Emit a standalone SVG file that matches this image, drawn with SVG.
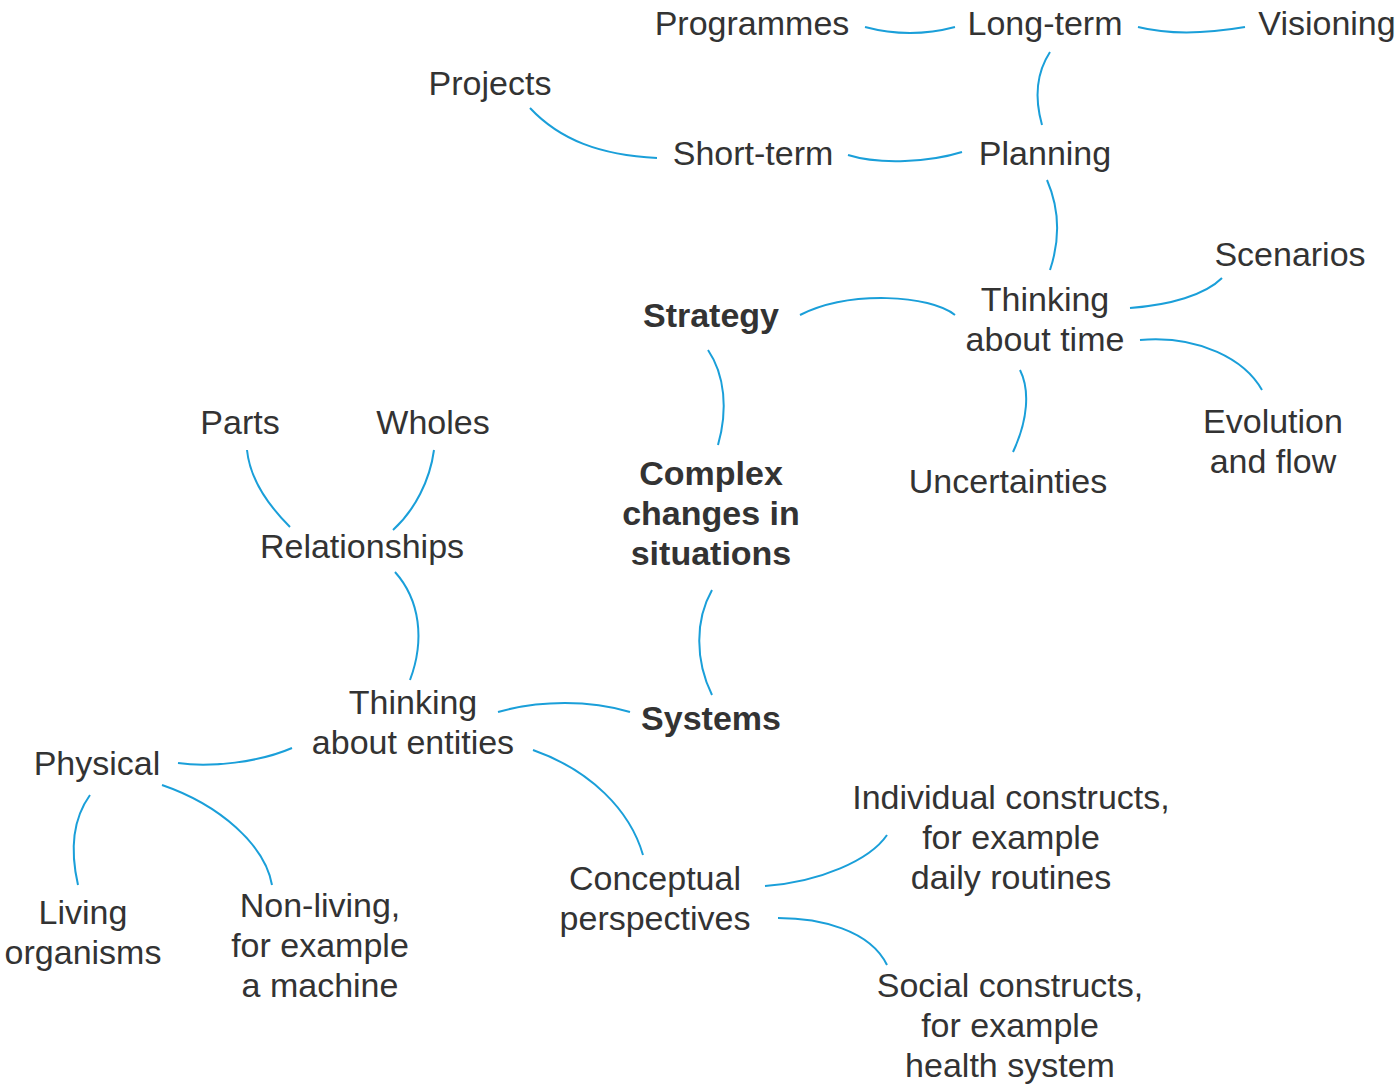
<svg xmlns="http://www.w3.org/2000/svg" width="1400" height="1089" viewBox="0 0 1400 1089">
<style>
text{font-family:"Liberation Sans",Arial,sans-serif;font-size:34px;fill:#333;text-anchor:middle}
.b{font-weight:bold}
#connectors path{fill:none;stroke:#1a9fd9;stroke-width:2}
</style>
<rect width="1400" height="1089" fill="#fff"/>
<g id="connectors">
<path d="M865,27 C895,35 925,35 955,27"/>
<path d="M1138,27 C1170,35 1210,33 1245,27"/>
<path d="M1050,52 C1035,75 1035,100 1042,125"/>
<path d="M530,108 C560,140 600,155 657,158"/>
<path d="M848,155 C880,165 930,162 962,152"/>
<path d="M1047,180 C1060,210 1060,240 1050,270"/>
<path d="M1130,308 C1170,305 1205,295 1222,278"/>
<path d="M955,315 C930,295 850,290 800,315"/>
<path d="M1140,340 C1200,335 1245,360 1262,390"/>
<path d="M1020,370 C1030,390 1028,420 1013,452"/>
<path d="M708,350 C725,375 728,410 718,445"/>
<path d="M712,590 C695,620 695,660 712,695"/>
<path d="M247,450 C250,480 268,505 290,527"/>
<path d="M434,450 C430,480 415,510 393,530"/>
<path d="M395,572 C420,600 425,640 410,680"/>
<path d="M498,712 C540,700 590,700 630,712"/>
<path d="M292,748 C260,762 210,768 178,763"/>
<path d="M533,750 C590,770 630,810 643,855"/>
<path d="M90,795 C72,820 70,850 78,885"/>
<path d="M162,785 C220,805 265,845 272,885"/>
<path d="M765,886 C820,882 870,860 887,835"/>
<path d="M778,918 C820,918 870,930 887,965"/>
</g>
<g id="programmes"><text x="752" y="35">Programmes</text></g>
<g id="longterm"><text x="1045" y="35">Long-term</text></g>
<g id="visioning"><text x="1327" y="35">Visioning</text></g>
<g id="projects"><text x="490" y="95">Projects</text></g>
<g id="shortterm"><text x="753" y="165">Short-term</text></g>
<g id="planning"><text x="1045" y="165">Planning</text></g>
<g id="scenarios"><text x="1290" y="266">Scenarios</text></g>
<g id="strategy"><text class="b" x="711" y="327">Strategy</text></g>
<g id="time"><text x="1045" y="311">Thinking</text><text x="1045" y="351">about time</text></g>
<g id="parts"><text x="240" y="434">Parts</text></g>
<g id="wholes"><text x="433" y="434">Wholes</text></g>
<g id="complex"><text class="b" x="711" y="485">Complex</text><text class="b" x="711" y="525">changes in</text><text class="b" x="711" y="565">situations</text></g>
<g id="uncertainties"><text x="1008" y="493">Uncertainties</text></g>
<g id="evolution"><text x="1273" y="433">Evolution</text><text x="1273" y="473">and flow</text></g>
<g id="relationships"><text x="362" y="558">Relationships</text></g>
<g id="entities"><text x="413" y="714">Thinking</text><text x="413" y="754">about entities</text></g>
<g id="systems"><text class="b" x="711" y="730">Systems</text></g>
<g id="physical"><text x="97" y="775">Physical</text></g>
<g id="individual"><text x="1011" y="809">Individual constructs,</text><text x="1011" y="849">for example</text><text x="1011" y="889">daily routines</text></g>
<g id="conceptual"><text x="655" y="890">Conceptual</text><text x="655" y="930">perspectives</text></g>
<g id="living"><text x="83" y="924">Living</text><text x="83" y="964">organisms</text></g>
<g id="nonliving"><text x="320" y="917">Non-living,</text><text x="320" y="957">for example</text><text x="320" y="997">a machine</text></g>
<g id="social"><text x="1010" y="997">Social constructs,</text><text x="1010" y="1037">for example</text><text x="1010" y="1077">health system</text></g>
</svg>
